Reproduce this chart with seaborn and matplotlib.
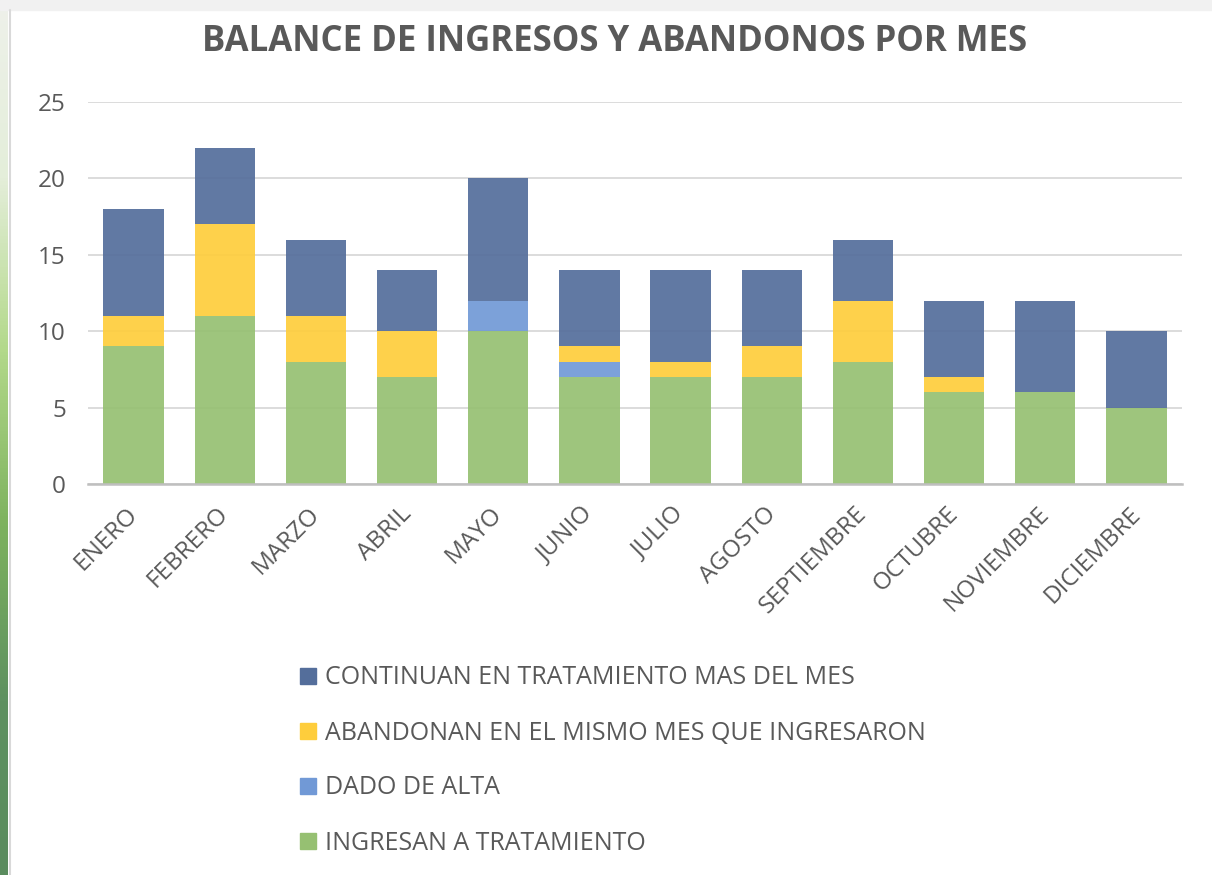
import numpy as np
import pandas as pd
import seaborn as sns
import matplotlib.pyplot as plt
import matplotlib.transforms as mtransforms
from matplotlib.colors import LinearSegmentedColormap
from matplotlib.lines import Line2D

# Data
meses = ["ENERO", "FEBRERO", "MARZO", "ABRIL", "MAYO", "JUNIO", "JULIO",
         "AGOSTO", "SEPTIEMBRE", "OCTUBRE", "NOVIEMBRE", "DICIEMBRE"]
ingresan = [9, 11, 8, 7, 10, 7, 7, 7, 8, 6, 6, 5]
dado_alta = [0, 0, 0, 0, 2, 1, 0, 0, 0, 0, 0, 0]
abandonan = [2, 6, 3, 3, 0, 1, 1, 2, 4, 1, 0, 0]
continuan = [7, 5, 5, 4, 8, 5, 6, 5, 4, 5, 6, 5]

series = [
    ("INGRESAN A TRATAMIENTO", ingresan, "#96C072"),
    ("DADO DE ALTA", dado_alta, "#7199D6"),
    ("ABANDONAN EN EL MISMO MES QUE INGRESARON", abandonan, "#FECD3C"),
    ("CONTINUAN EN TRATAMIENTO MAS DEL MES", continuan, "#546E9B"),
]

sns.set_theme(style="white")
plt.rcParams['font.family'] = ['Open Sans', 'DejaVu Sans']

W, H = 1212, 875
fig = plt.figure(figsize=(W / 100, H / 100), dpi=100, facecolor="white")

# slide background bits: light top strip and green left strip
bg = fig.add_axes([0, 0, 1, 1], zorder=-10)
bg.axis("off")
bg.set_xlim(0, W)
bg.set_ylim(H, 0)
bg.add_patch(plt.Rectangle((0, 0), W, 10, color="#F1F1F1"))
green = LinearSegmentedColormap.from_list(
    "g", ["#EEF1EA", "#E4EEDA", "#B3D98A", "#7DB25E", "#5E9160", "#5A8C5E"])
grad = np.linspace(0, 1, 256).reshape(-1, 1)
bg.imshow(grad, cmap=green, extent=(0, 8, H, 0), aspect="auto")
bg.plot([9.5, 9.5], [10, H], color="#D9D9D9", lw=1.5)

ax = fig.add_axes([88 / W, 1 - 484 / H, (1182 - 88) / W, (484 - 102) / H])

df = pd.DataFrame({"mes": meses})
bottom = np.zeros(len(meses))
for name, vals, color in series:
    df[name] = vals
    sns.barplot(data=df, x="mes", y=name, color=color, width=0.66,
                saturation=1, bottom=bottom, alpha=0.92, ax=ax, zorder=3,
                linewidth=0)
    bottom = bottom + np.array(vals)

ax.set_ylim(0, 25)
ax.set_yticks([0, 5, 10, 15, 20, 25])
ax.set_xlim(-0.5, len(meses) - 0.5)
ax.grid(axis="y", color="#D9D9D9", lw=1.3, zorder=0)
ax.set_axisbelow(False)
for s in ["top", "right", "left"]:
    ax.spines[s].set_visible(False)
ax.spines["bottom"].set_color("#BFBFBF")
ax.spines["bottom"].set_linewidth(1.8)
ax.spines["bottom"].set_zorder(5)
ax.set_xlabel("")
ax.set_ylabel("")
ax.tick_params(axis="y", labelsize=17.5, labelcolor="#595959", length=0, pad=16)
ax.tick_params(axis="x", labelsize=17.5, labelcolor="#595959", length=0, pad=13)
shift = mtransforms.ScaledTranslation(-8 / 100, 0, fig.dpi_scale_trans)
for lab in ax.get_xticklabels():
    lab.set_rotation(45)
    lab.set_ha("right")
    lab.set_rotation_mode("anchor")
    lab.set_transform(lab.get_transform() + shift)

fig.text(0.507, 1 - 42 / H, "BALANCE DE INGRESOS Y ABANDONOS POR MES",
         ha="center", va="center", fontsize=25, fontweight="bold", color="#595959")

handles = [Line2D([], [], marker="s", ls="", markersize=11, color=c, label=n)
           for n, v, c in reversed(series)]
fig.legend(handles=handles, loc="upper left", bbox_to_anchor=(280 / W, 1 - 653 / H),
           frameon=False, fontsize=18, labelcolor="#595959", handletextpad=0.1,
           labelspacing=1.2, borderpad=0, handlelength=1.2)

fig.savefig("out.png", dpi=100, facecolor="white")
